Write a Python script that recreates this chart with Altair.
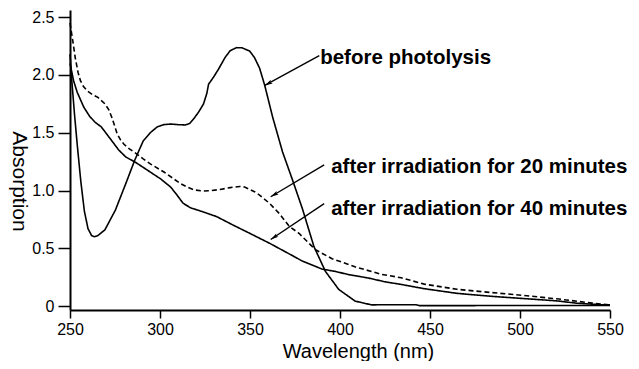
import math
import altair as alt
import pandas as pd

# ---- data ----
before_x = [250, 251, 252.5, 254, 256, 258, 260, 262, 263.5, 265.5, 269.4, 275.2, 281, 285.9,
            290.7, 294.6, 298.4, 302, 306, 310, 314, 316.5, 318.7, 321.5, 324.2, 326, 327,
            329.7, 332.5, 336.1, 339, 342.5, 345.5, 349.8, 352.5, 355.3, 358.2, 362.6, 368.1,
            373.6, 379.1, 385.5, 391.9, 399.3, 408.4, 417.6, 425, 442, 444, 550]
before_y = [2.18, 1.95, 1.66, 1.40, 1.08, 0.82, 0.67, 0.61, 0.60, 0.61, 0.66, 0.83, 1.06, 1.26,
            1.43, 1.50, 1.55, 1.57, 1.575, 1.57, 1.567, 1.58, 1.62, 1.68, 1.75, 1.84, 1.92,
            1.98, 2.05, 2.15, 2.21, 2.236, 2.235, 2.207, 2.15, 2.06, 1.909, 1.634, 1.333,
            1.092, 0.843, 0.516, 0.30, 0.144, 0.043, 0.01, 0.012, 0.012, 0.004, 0.005]

min20_x = [250, 251.5, 252.9, 254.5, 255.8, 257.5, 259.7, 262.5, 265.5, 269.4, 271.5, 273.3,
           275, 276.2, 278, 280, 283, 286.8, 290.5, 294.6, 302.2, 307.7, 311.4, 315, 319,
           324.2, 328.5, 333.4, 339, 344.3, 347, 349.8, 352.5, 355.3, 360.8, 366.3, 371.8,
           377.2, 386.4, 395.6, 408.3, 423, 434, 446.8, 465, 483.6, 502, 520.4, 538.8, 550]
min20_y = [2.45, 2.30, 2.15, 2.02, 1.95, 1.90, 1.86, 1.83, 1.806, 1.75, 1.70, 1.63,
           1.55, 1.49, 1.44, 1.40, 1.36, 1.32, 1.275, 1.23, 1.16, 1.10, 1.06, 1.03, 1.005,
           0.995, 1.0, 1.009, 1.025, 1.035, 1.03, 1.01, 0.99, 0.96, 0.89, 0.80, 0.69,
           0.63, 0.487, 0.41, 0.34, 0.275, 0.245, 0.19, 0.145, 0.118, 0.092, 0.063, 0.028, 0.01]

min40_x = [250, 252, 254, 257.7, 261, 264, 267.4, 271.3, 277.1, 281, 286.8, 290.7, 296.5,
           300.4, 305.9, 309, 312.8, 317, 324, 331.5, 340.7, 349.8, 360.8, 372.7, 379, 390,
           397.4, 404.8, 415.7, 425, 434, 447, 465, 483.6, 502, 520.4, 531.5, 544, 550]
min40_y = [2.10, 1.95, 1.85, 1.72, 1.64, 1.59, 1.55, 1.47, 1.35, 1.29, 1.24, 1.20, 1.14,
           1.10, 1.03, 0.97, 0.89, 0.85, 0.815, 0.774, 0.70, 0.63, 0.544, 0.444, 0.39, 0.32,
           0.30, 0.272, 0.243, 0.21, 0.187, 0.15, 0.11, 0.085, 0.065, 0.045, 0.025, 0.012, 0.01]

series_names = ["before photolysis", "after irradiation for 20 minutes",
                "after irradiation for 40 minutes"]

x_ticks = [250, 300, 350, 400, 450, 500, 550]
y_ticks = [0, 0.5, 1.0, 1.5, 2.0, 2.5]

# annotation labels (text anchor) and arrows (tail -> head), in data units
label_x = [389.0, 395.1, 395.1]
label_y = [2.092, 1.155, 0.788]
arrow_tail_x = [388.5, 391.2, 391.2]
arrow_tail_y = [2.167, 1.221, 0.886]
arrow_head_x = [358.2, 361.5, 361.5]
arrow_head_y = [1.909, 0.946, 0.576]

# ---- build tables ----
rows = []
for name, xs, ys in zip(series_names, [before_x, min20_x, min40_x], [before_y, min20_y, min40_y]):
    for xv, yv in zip(xs, ys):
        rows.append({"series": name, "wl": xv, "abs": yv})
lines_df = pd.DataFrame(rows)

W, H = 540, 300
X_DOM = [250, 550]
Y_DOM = [-0.034, 2.562]
sx = W / (X_DOM[1] - X_DOM[0])
sy = H / (Y_DOM[1] - Y_DOM[0])

angles = []
for tx, ty, hx, hy in zip(arrow_tail_x, arrow_tail_y, arrow_head_x, arrow_head_y):
    dx = (hx - tx) * sx
    dy = -(hy - ty) * sy
    angles.append(math.degrees(math.atan2(dx, -dy)) % 360)

ann_df = pd.DataFrame({
    "label": series_names, "lx": label_x, "ly": label_y,
    "tx": arrow_tail_x, "ty": arrow_tail_y, "hx": arrow_head_x, "hy": arrow_head_y,
    "angle": angles,
})

FONT = "Liberation Sans"

xscale = alt.Scale(domain=X_DOM, nice=False, zero=False)
yscale = alt.Scale(domain=Y_DOM, nice=False, zero=False)

x_axis = alt.Axis(values=x_ticks, title="Wavelength (nm)", grid=False, tickSize=8,
                  labelPadding=3, labelFontSize=16, titleFontSize=20, titleFontWeight="normal",
                  titleX=288, titleY=47, titleBaseline="alphabetic", titleAnchor="middle",
                  labelFlush=False, labelOverlap=False)
y_axis = alt.Axis(values=y_ticks, title="Absorption", grid=False, tickSize=12,
                  labelPadding=4, labelFontSize=16, titleFontSize=21, titleFontWeight="normal",
                  titleAngle=90, titleX=-52, titleY=171, titleAlign="center",
                  titleBaseline="middle", labelFlush=False, labelOverlap=False,
                  labelExpr="datum.value == 0 ? '0' : format(datum.value, '.1f')")

lines = alt.Chart(lines_df).mark_line(color="black", strokeWidth=1.6).encode(
    x=alt.X("wl:Q", scale=xscale, axis=x_axis),
    y=alt.Y("abs:Q", scale=yscale, axis=y_axis),
    detail="series:N",
    strokeDash=alt.StrokeDash("series:N", legend=None,
                              scale=alt.Scale(domain=series_names,
                                              range=[[1, 0], [5, 3], [1, 0]])),
)

shafts = alt.Chart(ann_df).mark_rule(color="black", strokeWidth=1.4).encode(
    x="tx:Q", y="ty:Q", x2="hx:Q", y2="hy:Q")

heads = alt.Chart(ann_df).mark_point(
    shape="M0,0L0.5,2L0,1.6L-0.5,2Z", filled=True, color="black", opacity=1, size=64,
    strokeWidth=0).encode(
    x="hx:Q", y="hy:Q", angle=alt.Angle("angle:Q", scale=None))

labels = alt.Chart(ann_df).mark_text(
    align="left", baseline="alphabetic", fontSize=20.5, fontWeight="bold", font=FONT,
    color="black").encode(x="lx:Q", y="ly:Q", text="label:N")

chart = alt.layer(lines, shafts, heads, labels).properties(
    width=W, height=H,
    padding={"left": 62, "top": 2, "right": 21, "bottom": 51},
    autosize=alt.AutoSizeParams(type="none"),
    background="white",
).configure_view(strokeWidth=0, stroke="transparent").configure_axis(
    domainColor="black", domainWidth=2, tickColor="black", tickWidth=1.5,
    labelColor="black", titleColor="black", labelFont=FONT, titleFont=FONT,
)

chart.save("out.html", embed_options={"renderer": "svg", "actions": False})
